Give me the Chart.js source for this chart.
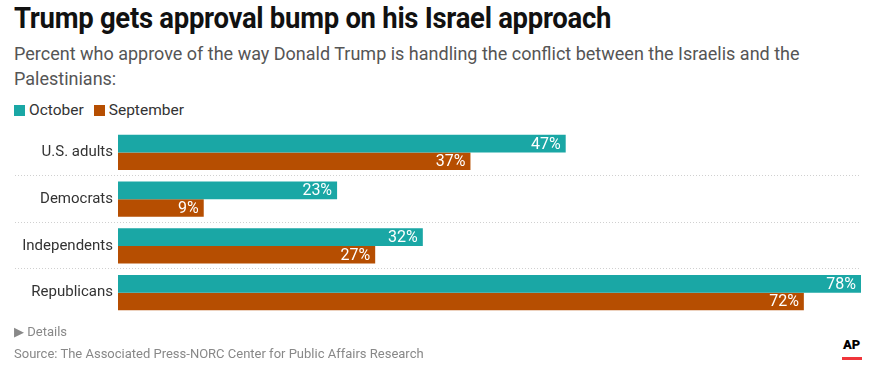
<!DOCTYPE html>
<html>
<head>
<meta charset="utf-8">
<script src="https://cdn.jsdelivr.net/npm/chart.js@4.4.0/dist/chart.umd.min.js"></script>
<style>
  body { margin: 0; width: 873px; height: 375px; background: #fff; font-family: Roboto, "Noto Sans", sans-serif; position: relative; overflow: hidden; }
  #title { position: absolute; left: 14px; top: 1px; font-family: Roboto, sans-serif; font-weight: bold; font-size: 29px; color: #111; white-space: nowrap; transform-origin: 0 0; letter-spacing: -0.3px; }
  #sub { position: absolute; left: 14px; top: 41px; font-size: 18px; line-height: 25px; color: #555; width: 850px; }
  #legend { position: absolute; left: 14px; top: 101px; font-size: 15.5px; color: #333; }
  #legend span.box { display: inline-block; width: 11px; height: 11px; vertical-align: -1px; margin-right: 4px; }
  #legend span.item { margin-right: 10px; }
  #wrap { position: absolute; left: 0; top: 115px; width: 873px; height: 215px; }
  #details { position: absolute; left: 14px; top: 324px; font-size: 13px; color: #888; }
  #source { position: absolute; left: 14px; top: 346px; font-size: 13px; color: #888; }
  #ap { position: absolute; left: 843px; top: 337px; font-family: Roboto, sans-serif; font-weight: 900; font-size: 13px; color: #000; }
  #apline { position: absolute; left: 842px; top: 357px; width: 20px; height: 3px; background: #f0353b; }
</style>
</head>
<body>
<div id="title">Trump gets approval bump on his Israel approach</div>
<div id="sub">Percent who approve of the way Donald Trump is handling the conflict between the Israelis and the Palestinians:</div>
<div id="legend"><span class="item"><span class="box" style="background:#1aa7a5"></span>October</span><span class="item"><span class="box" style="background:#b64e01"></span>September</span></div>
<div id="wrap"><canvas id="chart"></canvas></div>
<div id="details">&#9654; Details</div>
<div id="source">Source: The Associated Press-NORC Center for Public Affairs Research</div>
<div id="ap">AP</div>
<div id="apline"></div>
<script>
const groups = ["U.S. adults", "Democrats", "Independents", "Republicans"];
const october = [47, 23, 32, 78];
const september = [37, 9, 27, 72];

// squeeze the headline to the condensed width of the original
const title = document.getElementById('title');
title.style.transform = 'scaleX(' + (597 / title.scrollWidth) + ')';

const ctx = document.getElementById("chart");

// white value labels at the end of each bar
const valueLabels = {
  id: 'valueLabels',
  afterDatasetsDraw(chart) {
    const c = chart.ctx;
    c.save();
    c.font = '16px Roboto';
    c.fillStyle = '#fff';
    c.textAlign = 'right';
    c.textBaseline = 'middle';
    chart.data.datasets.forEach((ds, i) => {
      chart.getDatasetMeta(i).data.forEach((bar, j) => {
        c.fillText(ds.data[j] + '%', bar.x - 5, bar.y + 1);
      });
    });
    c.restore();
  }
};

// dotted separators between groups
const separators = {
  id: 'separators',
  beforeDatasetsDraw(chart) {
    const c = chart.ctx;
    const y = chart.scales.y;
    c.save();
    c.strokeStyle = '#d0d0d0';
    c.lineWidth = 1;
    c.setLineDash([1, 2]);
    for (let i = 0; i < groups.length - 1; i++) {
      const py = Math.round((y.getPixelForValue(i) + y.getPixelForValue(i + 1)) / 2) - 0.5;
      c.beginPath();
      c.moveTo(15, py);
      c.lineTo(chart.chartArea.right, py);
      c.stroke();
    }
    c.restore();
  }
};

const myChart = new Chart(ctx, {
  type: 'bar',
  data: {
    labels: groups,
    datasets: [
      { label: 'October', data: october, backgroundColor: '#1aa7a5' },
      { label: 'September', data: september, backgroundColor: '#b64e01' }
    ]
  },
  options: {
    indexAxis: 'y',
    responsive: true,
    maintainAspectRatio: false,
    animation: false,
    datasets: { bar: { categoryPercentage: 0.75, barPercentage: 1.0 } },
    layout: { padding: { top: 8, bottom: 5, right: 12, left: 0 } },
    plugins: { legend: { display: false }, tooltip: { enabled: false } },
    scales: {
      x: { display: false, min: 0, max: 78 },
      y: {
        grid: { display: false, drawTicks: false },
        border: { display: false },
        ticks: { color: '#333', font: { family: 'Roboto', size: 15 }, padding: 5 },
        afterFit(scale) { scale.width = 118; }
      }
    }
  },
  plugins: [separators, valueLabels]
});
</script>
</body>
</html>
